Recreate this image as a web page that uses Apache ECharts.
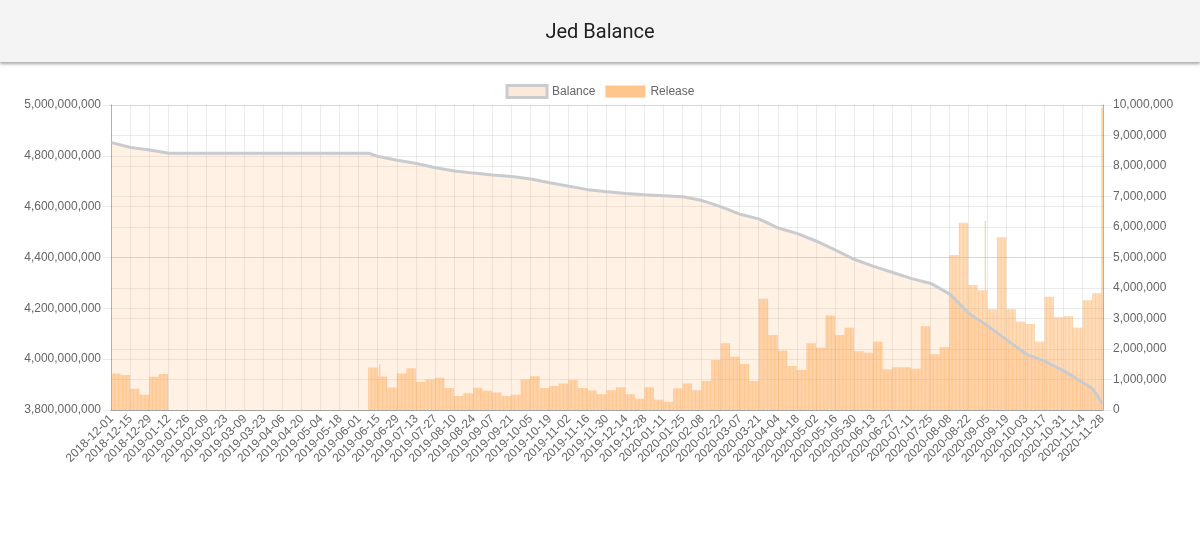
<!DOCTYPE html>
<html>
<head>
<meta charset="utf-8">
<title>Jed Balance</title>
<script src="https://cdn.jsdelivr.net/npm/echarts@6/dist/echarts.min.js"></script>
<style>
    body { margin: 0; background: #fff; }
    .header {
        position: absolute; left: 0; top: 0; width: 1200px; height: 62px;
        background: #f4f4f4; box-shadow: 0 2px 3px rgba(0,0,0,0.35); z-index: 2;
        text-align: center; line-height: 62px;
        font-family: Roboto, sans-serif; font-size: 20px; color: #212121;
    }
    #chart { position: absolute; left: 0; top: 0; width: 1200px; height: 539px; }
</style>
</head>
<body>
<div class="header">Jed Balance</div>
<div id="chart"></div>
<script>
// daily data from 2018-12-01, one category per day
var startDate = '2018-12-01';
var dayCount = 729;

// release per day, read week by week (same value for the 7 days of a week)
var weeklyRelease = [
    1200000, 1150000, 700000, 500000, 1090000, 1180000,
    0, 0, 0, 0, 0, 0, 0, 0, 0, 0, 0, 0, 0, 0, 0, 0, 0, 0, 0, 0, 0,
    1390000, 1100000, 740000, 1200000, 1370000, 920000, 1000000, 1060000, 720000, 460000,
    550000, 730000, 630000, 570000, 460000, 500000, 1000000, 1110000, 720000, 790000,
    870000, 980000, 720000, 640000, 520000, 650000, 750000, 520000, 370000, 750000,
    340000, 270000, 710000, 870000, 650000, 950000, 1640000, 2190000, 1750000, 1510000,
    950000, 3650000, 2460000, 1950000, 1440000, 1310000, 2190000, 2040000, 3100000, 2460000,
    2700000, 1930000, 1880000, 2240000, 1340000, 1400000, 1400000, 1350000, 2750000, 1830000,
    2060000, 5080000, 6140000, 4100000, 3930000, 3300000, 5660000, 3300000, 2900000, 2820000,
    2240000, 3710000, 3040000, 3070000, 2700000, 3600000, 3830000
];
// single days that stand out from their week
var releaseSpikeDates = ['2019-06-16', '2020-09-03', '2020-11-28'];
var releaseSpikeValues = [1500000, 6200000, 9900000];

// balance readings
var balanceDates = [
    '2018-12-01', '2018-12-15', '2018-12-29', '2019-01-12', '2019-01-26', '2019-02-09',
    '2019-02-23', '2019-03-09', '2019-03-23', '2019-04-06', '2019-04-20', '2019-05-04',
    '2019-05-18', '2019-06-01', '2019-06-08', '2019-06-15', '2019-06-29', '2019-07-13',
    '2019-07-27', '2019-08-10', '2019-08-24', '2019-09-07', '2019-09-21', '2019-10-05',
    '2019-10-19', '2019-11-02', '2019-11-16', '2019-11-30', '2019-12-14', '2019-12-28',
    '2020-01-11', '2020-01-25', '2020-02-08', '2020-02-22', '2020-03-07', '2020-03-21',
    '2020-04-04', '2020-04-18', '2020-05-02', '2020-05-16', '2020-05-30', '2020-06-13',
    '2020-06-27', '2020-07-11', '2020-07-25', '2020-08-08', '2020-08-22', '2020-09-05',
    '2020-09-19', '2020-10-03', '2020-10-17', '2020-10-31', '2020-11-14', '2020-11-21',
    '2020-11-28'
];
var balanceValues = [
    4852000000, 4833000000, 4823000000, 4810000000, 4810000000, 4810000000,
    4810000000, 4810000000, 4810000000, 4810000000, 4810000000, 4810000000,
    4810000000, 4810000000, 4810000000, 4797000000, 4783000000, 4770000000,
    4753000000, 4740000000, 4732000000, 4725000000, 4719000000, 4709000000,
    4694000000, 4680000000, 4667000000, 4659000000, 4652000000, 4647000000,
    4643000000, 4639000000, 4624000000, 4599000000, 4570000000, 4551000000,
    4516000000, 4494000000, 4464000000, 4429000000, 4392000000, 4365000000,
    4341000000, 4317000000, 4298000000, 4256000000, 4180000000, 4130000000,
    4075000000, 4020000000, 3991000000, 3953000000, 3907000000, 3883000000,
    3826000000
];

var dates = [];
var t0 = new Date(startDate + 'T00:00:00Z').getTime();
for (var i = 0; i < dayCount; i++) {
    dates.push(new Date(t0 + i * 86400000).toISOString().slice(0, 10));
}

var release = dates.map(function (d, i) {
    var w = Math.floor(i / 7);
    return w < weeklyRelease.length ? weeklyRelease[w] : 0;
});
releaseSpikeDates.forEach(function (d, i) {
    release[dates.indexOf(d)] = releaseSpikeValues[i];
});

var balance = dates.map(function () { return null; });
balanceDates.forEach(function (d, i) {
    balance[dates.indexOf(d)] = balanceValues[i];
});

var font = "'Liberation Sans', Helvetica, Arial, sans-serif";
var gridColor = 'rgba(0,0,0,0.08)';
function commas(v) { return v.toLocaleString('en-US'); }

var myChart = echarts.init(document.getElementById('chart'));
var option = {
    animation: false,
    legend: {
        top: 79,
        left: 'center',
        itemWidth: 40,
        itemHeight: 12,
        itemGap: 10,
        textStyle: { color: '#666', fontSize: 12, fontFamily: font },
        data: [
            { name: 'Balance', icon: 'rect', itemStyle: { color: '#fde9d9', borderColor: '#c9cbcf', borderWidth: 3 } },
            { name: 'Release', icon: 'rect', itemStyle: { color: 'rgba(255,159,64,0.6)' } }
        ]
    },
    grid: {
        left: 111,
        right: 97,
        top: 105,
        bottom: 129
    },
    xAxis: {
        type: 'category',
        data: dates,
        boundaryGap: true,
        axisLine: { lineStyle: { color: 'rgba(0,0,0,0.25)' } },
        axisTick: { interval: 13, length: 8, alignWithLabel: true, lineStyle: { color: gridColor } },
        axisLabel: { interval: 13, rotate: 45, color: '#666', fontSize: 12, fontFamily: font, margin: 7 },
        splitLine: { show: true, interval: 13, lineStyle: { color: gridColor } }
    },
    yAxis: [
        {
            type: 'value',
            min: 3800000000,
            max: 5000000000,
            interval: 200000000,
            axisLine: { show: true, lineStyle: { color: 'rgba(0,0,0,0.25)' } },
            axisTick: { show: true, length: 8, lineStyle: { color: gridColor } },
            axisLabel: { color: '#666', fontSize: 12, fontFamily: font, margin: 10, formatter: commas },
            splitLine: { show: true, lineStyle: { color: gridColor } }
        },
        {
            type: 'value',
            min: 0,
            max: 10000000,
            interval: 1000000,
            position: 'right',
            axisLine: { show: true, lineStyle: { color: 'rgba(0,0,0,0.25)' } },
            axisTick: { show: true, length: 8, lineStyle: { color: gridColor } },
            axisLabel: { color: '#666', fontSize: 12, fontFamily: font, margin: 10, formatter: commas },
            splitLine: { show: true, lineStyle: { color: gridColor } }
        }
    ],
    series: [
        {
            name: 'Balance',
            type: 'line',
            yAxisIndex: 0,
            data: balance,
            connectNulls: true,
            showSymbol: false,
            z: 3,
            lineStyle: { color: '#c9cbcf', width: 3 },
            itemStyle: { color: '#c9cbcf' },
            areaStyle: { color: 'rgba(255,159,64,0.2)', origin: 'start' }
        },
        {
            name: 'Release',
            type: 'bar',
            yAxisIndex: 1,
            data: release,
            barCategoryGap: '15%',
            z: 2,
            itemStyle: { color: 'rgba(255,159,64,0.5)' }
        }
    ]
};
myChart.setOption(option);
</script>
</body>
</html>
